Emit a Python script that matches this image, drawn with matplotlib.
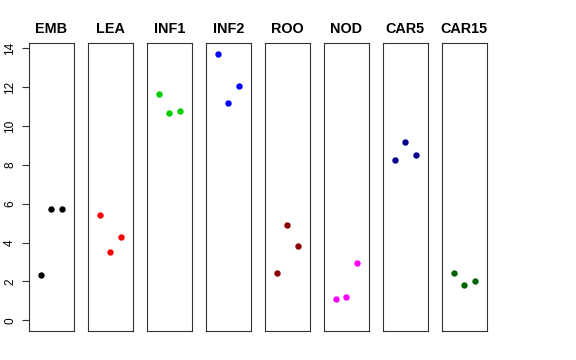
import matplotlib

matplotlib.use("Agg")
import matplotlib.pyplot as plt

plt.rcParams["font.family"] = ["Liberation Sans", "DejaVu Sans"]

GROUPS = ["EMB", "LEA", "INF1", "INF2", "ROO", "NOD", "CAR5", "CAR15"]
REPLICATE = [1, 2, 3]
EMB = [2.32, 5.73, 5.73]
LEA = [5.40, 3.50, 4.29]
INF1 = [11.65, 10.65, 10.79]
INF2 = [13.72, 11.17, 12.07]
ROO = [2.43, 4.89, 3.84]
NOD = [1.11, 1.20, 2.93]
CAR5 = [8.25, 9.16, 8.49]
CAR15 = [2.42, 1.80, 2.02]
VALUES = [EMB, LEA, INF1, INF2, ROO, NOD, CAR5, CAR15]
YTICKS = [0, 2, 4, 6, 8, 10, 12, 14]

COLORS = ["black", "red", "#00CD00", "blue", "#8B0000", "magenta", "#00008B", "#006400"]

W, H = 576, 360
fig = plt.figure(figsize=(W / 100, H / 100), dpi=100)

left0, step, width = 29, 59, 44.5
top, bottom = 43, 331

for i, (name, vals, col) in enumerate(zip(GROUPS, VALUES, COLORS)):
    x0 = left0 + i * step
    ax = fig.add_axes([x0 / W, 1 - bottom / H, width / W, (bottom - top) / H])
    ax.plot(REPLICATE, vals, "o", color=col, markersize=4.6, markeredgewidth=0)
    ax.set_xlim(-0.13, 4.13)
    ax.set_ylim(-0.55, 14.27)
    ax.set_xticks([])
    for sp in ax.spines.values():
        sp.set_linewidth(0.8)
        sp.set_color("#333333")
    ax.set_title(name, fontsize=10.4, fontweight="bold", pad=7)
    if i == 0:
        ax.set_yticks(YTICKS)
        ax.set_yticklabels([str(t) for t in YTICKS], rotation=90, va="center",
                           fontsize=8.6)
        ax.tick_params(axis="y", length=5.2, width=0.8, pad=4, color="#333333")
    else:
        ax.set_yticks([])

fig.savefig("out.png", dpi=100)
